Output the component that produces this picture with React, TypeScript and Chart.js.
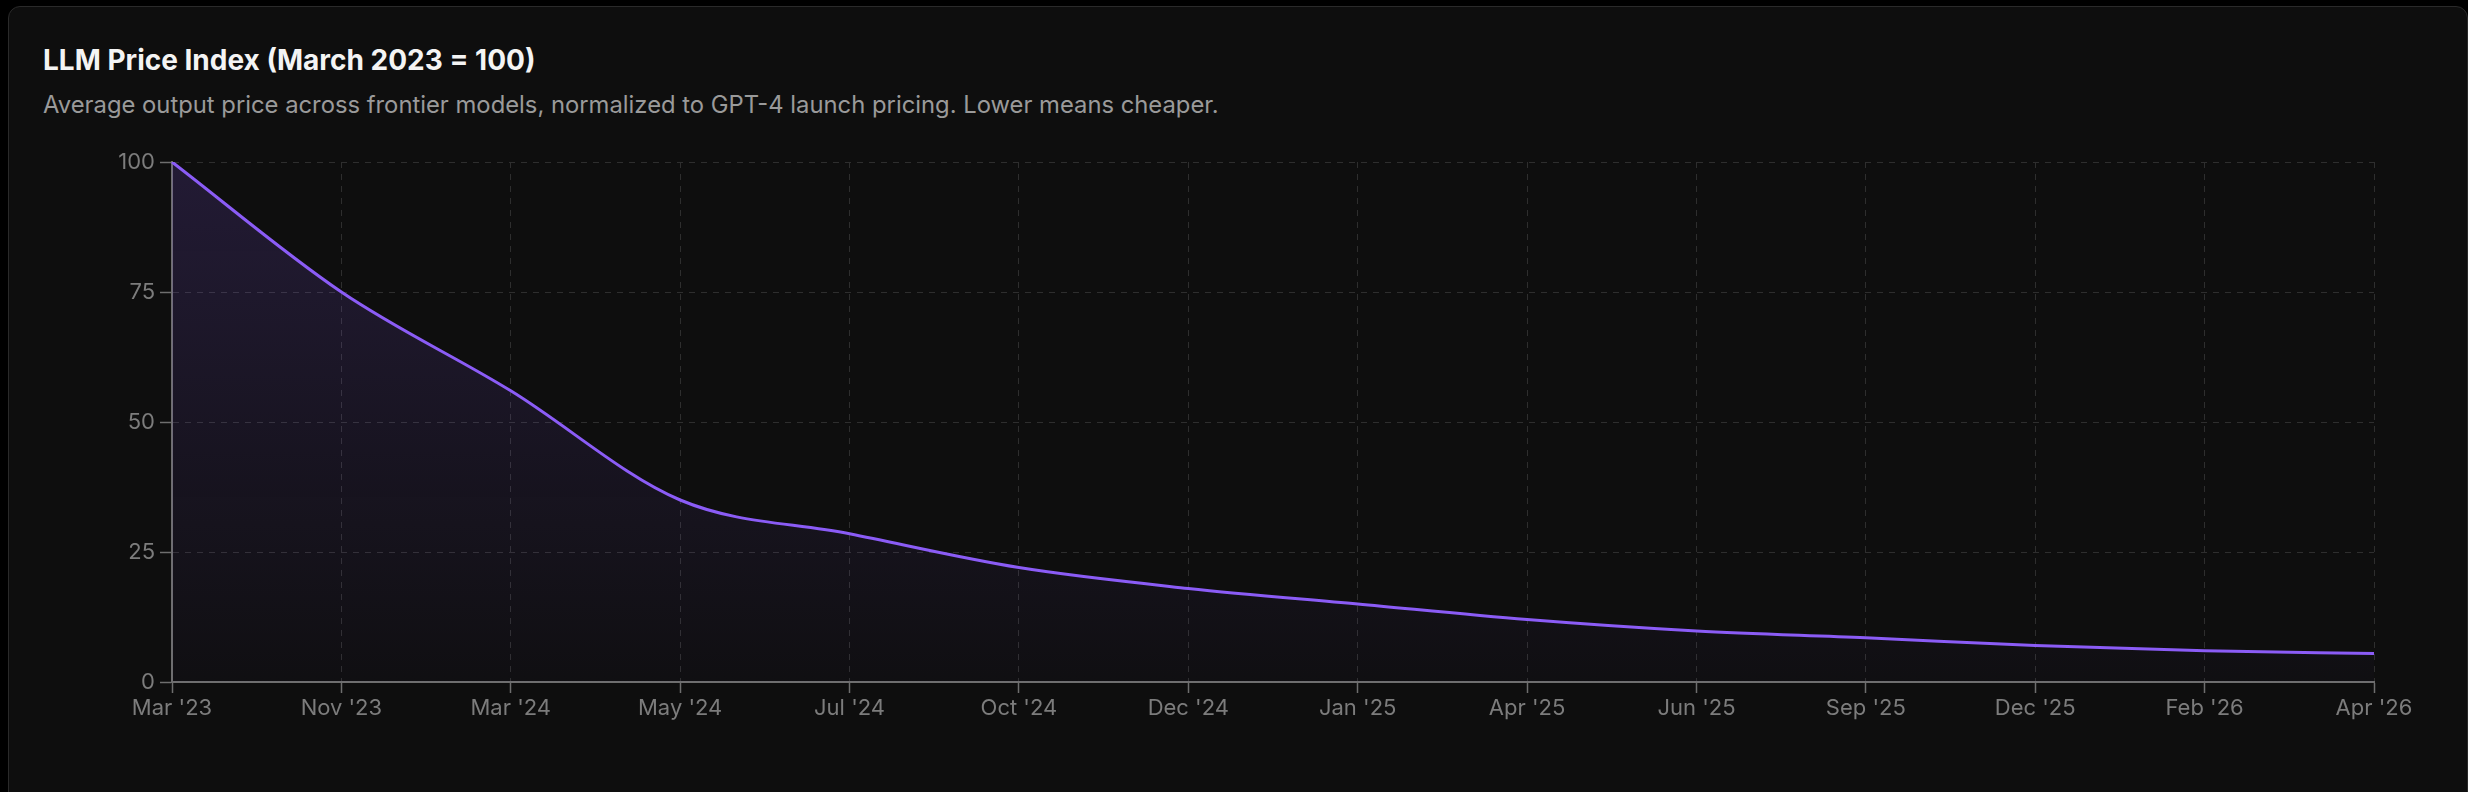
import React, { useEffect, useRef } from "react";
import { Chart, registerables } from "chart.js";

Chart.register(...registerables);

const categories: string[] = [
  "Mar '23", "Nov '23", "Mar '24", "May '24", "Jul '24", "Oct '24", "Dec '24",
  "Jan '25", "Apr '25", "Jun '25", "Sep '25", "Dec '25", "Feb '26", "Apr '26",
];
const priceIndex: number[] = [100, 75, 56, 35, 28.5, 22, 18, 15, 12, 9.8, 8.5, 7, 6, 5.5];
const yTicks: number[] = [0, 25, 50, 75, 100];

const TITLE = "LLM Price Index (March 2023 = 100)";
const SUBTITLE =
  "Average output price across frontier models, normalized to GPT-4 launch pricing. Lower means cheaper.";

const FONT = "Inter, 'Noto Sans', sans-serif";

export default function App() {
  const canvasRef = useRef<HTMLCanvasElement | null>(null);

  useEffect(() => {
    const canvas = canvasRef.current;
    if (!canvas) return;
    const chart = new Chart(canvas, {
      type: "line",
      data: {
        labels: categories,
        datasets: [
          {
            data: priceIndex,
            borderColor: "#8b5cf6",
            borderWidth: 3,
            pointRadius: 0,
            pointHoverRadius: 0,
            cubicInterpolationMode: "monotone",
            fill: "origin",
            backgroundColor: (ctx: any) => {
              const area = ctx.chart.chartArea;
              if (!area) return "rgba(139,92,246,0.12)";
              const g = ctx.chart.ctx.createLinearGradient(0, area.top, 0, area.bottom);
              g.addColorStop(0, "rgba(139,92,246,0.17)");
              g.addColorStop(1, "rgba(139,92,246,0.02)");
              return g;
            },
          },
        ],
      },
      options: {
        animation: false,
        responsive: true,
        maintainAspectRatio: false,
        layout: { padding: { top: 22, right: 60, bottom: 0, left: 0 } },
        plugins: {
          legend: { display: false },
          tooltip: { enabled: false },
          title: { display: false },
        },
        scales: {
          x: {
            type: "category",
            offset: false,
            grid: {
              color: "#2e2e2e",
              lineWidth: 1,
              drawTicks: true,
              tickLength: 11,
              tickColor: "#6e6e6e",
              tickWidth: 1.5,
              tickBorderDash: [],
            },
            border: { display: true, color: "#6e6e6e", width: 2, dash: [6, 6] },
            ticks: {
              color: "#7c7c7c",
              font: { family: FONT, size: 22 },
              padding: 2,
              maxRotation: 0,
              autoSkip: false,
            },
            afterFit: (scale: any) => {
              scale.height = 50;
              scale.paddingLeft = 0;
              scale.paddingRight = 0;
            },
          },
          y: {
            min: 0,
            max: 100,
            afterBuildTicks: (scale: any) => {
              scale.ticks = yTicks.map((v) => ({ value: v }));
            },
            grid: {
              color: "#2e2e2e",
              lineWidth: 1,
              drawTicks: true,
              tickLength: 12,
              tickColor: "#6e6e6e",
              tickWidth: 1.5,
              tickBorderDash: [],
            },
            border: { display: true, color: "#6e6e6e", width: 2, dash: [6, 6] },
            ticks: {
              color: "#7c7c7c",
              font: { family: FONT, size: 22 },
              padding: 5,
            },
            afterFit: (scale: any) => {
              scale.width = 72;
              scale.paddingTop = 0;
              scale.paddingBottom = 0;
            },
          },
        },
      },
    });
    return () => chart.destroy();
  }, []);

  return (
    <>
      <div style={{ position: "fixed", inset: 0, background: "#000" }} />
      <div
        style={{
          position: "absolute",
          left: 8,
          top: 6,
          width: 2460,
          height: 900,
          boxSizing: "border-box",
          background: "#0e0e0e",
          border: "1px solid #2a2a2a",
          borderRadius: 12,
          fontFamily: FONT,
        }}
      >
        <div
          style={{
            position: "absolute",
            left: 34,
            top: 35.5,
            fontSize: 28,
            fontWeight: 700,
            color: "#f4f4f4",
            lineHeight: "normal",
            whiteSpace: "nowrap",
          }}
        >
          {TITLE}
        </div>
        <div
          style={{
            position: "absolute",
            left: 34,
            top: 82.5,
            fontSize: 23.8,
            fontWeight: 400,
            color: "#9a9a9a",
            lineHeight: "normal",
            whiteSpace: "nowrap",
          }}
        >
          {SUBTITLE}
        </div>
        <div
          style={{
            position: "absolute",
            left: 91,
            top: 133,
            width: 2334,
            height: 592,
          }}
        >
          <canvas ref={canvasRef} />
        </div>
      </div>
    </>
  );
}
